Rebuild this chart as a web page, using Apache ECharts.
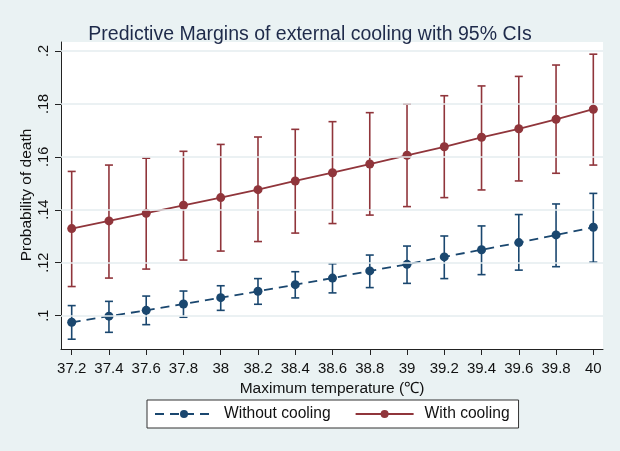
<!DOCTYPE html>
<html>
<head>
<meta charset="utf-8">
<script src="https://cdn.jsdelivr.net/npm/echarts@6/dist/echarts.min.js"></script>
<style>
html,body{margin:0;padding:0;background:#EAF2F3;}
#chart{width:620px;height:451px;}
</style>
</head>
<body>
<div id="chart"></div>
<script>
const xTicks = [37.2, 37.4, 37.6, 37.8, 38, 38.2, 38.4, 38.6, 38.8, 39, 39.2, 39.4, 39.6, 39.8, 40];
const yTicks = [0.1, 0.12, 0.14, 0.16, 0.18, 0.2];
const yTickLabels = ['.1', '.12', '.14', '.16', '.18', '.2'];

const withoutMean = [0.0975, 0.0998, 0.1020, 0.1044, 0.1068, 0.1092, 0.1117, 0.1142, 0.1169, 0.1194, 0.1222, 0.1249, 0.1276, 0.1305, 0.1334];
const withoutLow  = [0.0911, 0.0937, 0.0966, 0.0994, 0.1020, 0.1043, 0.1067, 0.1086, 0.1106, 0.1122, 0.1140, 0.1155, 0.1172, 0.1185, 0.1202];
const withoutHigh = [0.1038, 0.1054, 0.1074, 0.1093, 0.1113, 0.1140, 0.1166, 0.1196, 0.1229, 0.1263, 0.1301, 0.1339, 0.1382, 0.1422, 0.1462];

const withMean = [0.1329, 0.1358, 0.1387, 0.1417, 0.1446, 0.1476, 0.1509, 0.1540, 0.1573, 0.1606, 0.1638, 0.1674, 0.1706, 0.1742, 0.1780];
const withLow  = [0.1110, 0.1142, 0.1176, 0.1210, 0.1244, 0.1280, 0.1312, 0.1348, 0.1380, 0.1412, 0.1446, 0.1475, 0.1509, 0.1538, 0.1569];
const withHigh = [0.1545, 0.1569, 0.1595, 0.1621, 0.1647, 0.1675, 0.1704, 0.1733, 0.1767, 0.1799, 0.1831, 0.1868, 0.1904, 0.1947, 0.1988];

const BLUE = '#1A476F';
const RED = '#90353B';
const FONT = 'Liberation Sans, Arial, sans-serif';

function ciRenderer(color) {
  return function (params, api) {
    const x = api.value(0), lo = api.value(1), hi = api.value(2);
    const a = api.coord([x, lo]);
    const b = api.coord([x, hi]);
    const w = 4;
    const st = { stroke: color, lineWidth: 1.6 };
    return {
      type: 'group',
      children: [
        { type: 'line', shape: { x1: a[0], y1: a[1], x2: b[0], y2: b[1] }, style: st },
        { type: 'line', shape: { x1: a[0] - w, y1: a[1], x2: a[0] + w, y2: a[1] }, style: st },
        { type: 'line', shape: { x1: b[0] - w, y1: b[1], x2: b[0] + w, y2: b[1] }, style: st }
      ]
    };
  };
}

const chart = echarts.init(document.getElementById('chart'), null, { renderer: 'canvas' });
chart.setOption({
  backgroundColor: '#EAF2F3',
  animation: false,
  textStyle: { fontFamily: FONT },
  title: {
    text: 'Predictive Margins of external cooling with 95% CIs',
    left: 'center',
    top: 20,
    textStyle: { fontFamily: FONT, fontSize: 19.5, fontWeight: 'normal', color: '#1E2A4A' }
  },
  graphic: [{
    type: 'text', x: 27, y: 195, rotation: Math.PI / 2, silent: true,
    style: {
      text: 'Probability of death', textAlign: 'center', textVerticalAlign: 'middle',
      fontSize: 15.5, fontFamily: FONT, fill: '#111'
    }
  }],
  legend: {
    left: 147,
    top: 400,
    data: ['Without cooling', 'With cooling'],
    backgroundColor: '#ffffff',
    borderColor: '#333333',
    borderWidth: 1,
    borderRadius: 0,
    padding: [6, 9, 6, 7],
    itemWidth: 58,
    itemHeight: 10,
    itemGap: 24,
    textStyle: { fontFamily: FONT, fontSize: 15.6, color: '#111', padding: [0, 0, 0, 6] }
  },
  grid: { left: 61, right: 17, top: 42, bottom: 102, backgroundColor: '#ffffff', show: true, borderWidth: 0 },
  xAxis: {
    type: 'value',
    min: 37.1426,
    max: 40.052,
    name: 'Maximum temperature (℃)',
    nameLocation: 'middle',
    nameGap: 28,
    nameTextStyle: { fontFamily: FONT, fontSize: 15.5, color: '#111' },
    axisLine: { show: true, onZero: false, lineStyle: { color: '#222', width: 1 } },
    axisTick: { show: true, length: 6, lineStyle: { color: '#222' }, customValues: xTicks },
    axisLabel: {
      customValues: xTicks, margin: 12, fontFamily: FONT, fontSize: 15, color: '#111',
      formatter: v => String(Math.round(v * 10) / 10)
    },
    splitLine: { show: false }
  },
  yAxis: {
    type: 'value',
    min: 0.0874,
    max: 0.2034,
    axisLine: { show: true, onZero: false, lineStyle: { color: '#222', width: 1 } },
    axisTick: { show: true, length: 6, lineStyle: { color: '#222' }, customValues: yTicks },
    axisLabel: {
      customValues: yTicks, rotate: 90, margin: 10, fontFamily: FONT, fontSize: 14.5, color: '#111',
      formatter: v => { const i = yTicks.findIndex(t => Math.abs(t - v) < 1e-6); return i >= 0 ? yTickLabels[i] : ''; }
    },
    splitLine: { show: false }
  },
  series: [
    {
      name: 'grid', type: 'line', data: [], silent: true, z: 1,
      markLine: {
        silent: true, symbol: 'none', label: { show: false },
        lineStyle: { color: '#E4EDEF', width: 1.5, type: 'solid' },
        emphasis: { disabled: true },
        data: yTicks.map(v => ({ yAxis: v }))
      }
    },
    {
      name: 'ciWithout', type: 'custom', renderItem: ciRenderer(BLUE), z: 2,
      data: xTicks.map((x, i) => [x, withoutLow[i], withoutHigh[i]])
    },
    {
      name: 'ciWith', type: 'custom', renderItem: ciRenderer(RED), z: 2,
      data: xTicks.map((x, i) => [x, withLow[i], withHigh[i]])
    },
    {
      name: 'Without cooling', type: 'line', z: 3,
      data: xTicks.map((x, i) => [x, withoutMean[i]]),
      symbol: 'circle', symbolSize: 9,
      itemStyle: { color: BLUE },
      lineStyle: { color: BLUE, width: 1.8, type: [9, 6] }
    },
    {
      name: 'With cooling', type: 'line', z: 3,
      data: xTicks.map((x, i) => [x, withMean[i]]),
      symbol: 'circle', symbolSize: 9,
      itemStyle: { color: RED },
      lineStyle: { color: RED, width: 1.8 }
    }
  ]
});
</script>
</body>
</html>
